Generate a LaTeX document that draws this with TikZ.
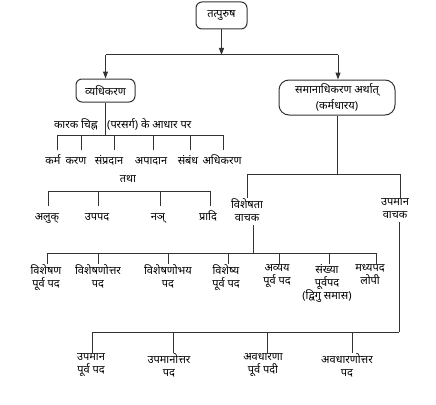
\documentclass[tikz,border=0pt]{standalone}
\usepackage{fontspec}
\newfontfamily\dev[Script=Devanagari]{Noto Sans}
\usetikzlibrary{arrows.meta}
\definecolor{linec}{HTML}{333333}
\begin{document}
\begin{tikzpicture}[x=1pt,y=-1pt,
  txt/.style={font=\dev\fontsize{11}{13}\selectfont, text=black},
  lbl/.style={txt, align=center, inner sep=0pt, anchor=north, execute at begin node={\rule{0pt}{14.5pt}}},
  box/.style={txt, font=\dev\fontsize{11}{16}\selectfont, draw=linec, line width=1pt, rounded corners=6pt, align=center, inner sep=0pt},
  ln/.style={draw=linec, line width=1pt},
  arr/.style={ln, -{Triangle[length=7pt,width=5pt]}}]
\useasboundingbox (0,0) rectangle (436,404);

% top level
\node[box, font=\dev\bfseries\fontsize{11}{13}\selectfont, minimum width=51pt, minimum height=27pt] (top) at (221.5,15.5) {तत्पुरुष};
\node[box, minimum width=59pt, minimum height=23pt] (vya) at (105.5,90.5) {व्यधिकरण};
\node[box, rounded corners=10pt, minimum width=116pt, minimum height=35pt] (sam) at (337,97.5) {समानाधिकरण अर्थात्\\(कर्मधारय)};

\coordinate (j0) at (221.5,55);
\coordinate (b1l) at (105.5,55);
\coordinate (b1r) at (338,55);
\draw[arr] (top.south) -- (j0);
\draw[ln] (b1l) -- (b1r);
\draw[arr] (b1l) -- (vya.north);
\draw[arr] (b1r) -- (b1r |- sam.north);

% vyadhikaran branch
\coordinate (b2l) at (57,135);
\coordinate (b2r) at (223,135);
\draw[ln] (vya.south) -- (vya.south |- b2l);
\node[txt, anchor=base east, inner sep=0pt] (kc) at (98,128) {कारक चिह्न};
\node[txt, anchor=base west, inner sep=0pt] (ps) at (107,128) {(परसर्ग) के आधार पर};
\draw[ln] (b2l) -- (b2r);
\node[lbl] (k1) at (53,150) {कर्म};
\node[lbl] (k2) at (76,150) {करण};
\node[lbl] (k3) at (109,150) {संप्रदान};
\node[lbl] (k4) at (151,150) {अपादान};
\node[lbl] (k5) at (188,150) {संबंध};
\node[lbl] (k6) at (222,150) {अधिकरण};
\draw[ln] ([xshift=4pt]k1.north |- b2l) -- ([xshift=4pt]k1.north);
\draw[ln] ([xshift=5pt]k2.north |- b2l) -- ([xshift=5pt]k2.north);
\draw[ln] ([xshift=5pt]k3.north |- b2l) -- ([xshift=5pt]k3.north);
\draw[ln] ([xshift=2pt]k4.north |- b2l) -- ([xshift=2pt]k4.north);
\draw[ln] ([xshift=2pt]k5.north |- b2l) -- ([xshift=2pt]k5.north);
\draw[ln] ([xshift=1pt]k6.north |- b2l) -- ([xshift=1pt]k6.north);

\node[txt, anchor=base, inner sep=0pt] (tatha) at (128,182) {तथा};

\coordinate (b3l) at (48,191);
\coordinate (b3r) at (210,191);
\draw[ln] (b3l) -- (b3r);
\node[lbl] (a1) at (47,206) {अलुक्};
\node[lbl] (a2) at (97,206) {उपपद};
\node[lbl] (a3) at (158,206) {नञ्};
\node[lbl] (a4) at (208,206) {प्रादि};
\draw[ln] ([xshift=1pt]a1.north |- b3l) -- ([xshift=1pt]a1.north);
\draw[ln] ([xshift=1pt]a2.north |- b3l) -- ([xshift=1pt]a2.north);
\draw[ln] ([xshift=2pt]a3.north |- b3l) -- ([xshift=2pt]a3.north);
\draw[ln] ([xshift=2pt]a4.north |- b3l) -- ([xshift=2pt]a4.north);

% samanadhikaran branch
\coordinate (b4l) at (247,174);
\coordinate (b4r) at (400,174);
\draw[ln] (sam.south) -- (sam.south |- b4l);
\draw[ln] (b4l) -- (b4r);
\node[lbl] (vis) at (247,198) {विशेषता\\वाचक};
\node[lbl] (upv) at (395,198) {उपमान\\वाचक};
\draw[ln] (vis.north |- b4l) -- (vis.north);
\draw[ln] ([xshift=5pt]upv.north |- b4l) -- ([xshift=5pt]upv.north);

\coordinate (b5l) at (47,253);
\coordinate (b5r) at (376,253);
\draw[ln] ([xshift=6pt,yshift=-4pt]vis.south) -- ([xshift=6pt]vis.south |- b5l);
\draw[ln] (b5l) -- (b5r);
\node[lbl] (v1) at (46,264) {विशेषण\\पूर्व पद};
\node[lbl] (v2) at (98,264) {विशेषणोत्तर\\पद};
\node[lbl] (v3) at (168,264) {विशेषणोभय\\पद};
\node[lbl] (v4) at (226,264) {विशेष्य\\पूर्व पद};
\node[lbl] (v5) at (277,264) {अव्यय\\पूर्व पद};
\node[lbl] (v6) at (327,264) {संख्या\\पूर्वपद\\(द्विगु समास)};
\node[lbl] (v7) at (370,264) {मध्यपद\\लोपी};
\draw[ln] ([xshift=1pt]v1.north |- b5l) -- ([xshift=1pt]v1.north);
\draw[ln] (v2.north |- b5l) -- (v2.north);
\draw[ln] (v3.north |- b5l) -- (v3.north);
\draw[ln] ([xshift=2pt]v4.north |- b5l) -- ([xshift=2pt]v4.north);
\draw[ln] ([xshift=2pt]v5.north |- b5l) -- ([xshift=2pt]v5.north);
\draw[ln] ([xshift=2pt]v6.north |- b5l) -- ([xshift=2pt]v6.north);
\draw[ln] ([xshift=6pt]v7.north |- b5l) -- ([xshift=6pt]v7.north);

\coordinate (b6l) at (92,332);
\coordinate (b6r) at (399,332);
\draw[ln] ([xshift=4pt,yshift=-4pt]upv.south) -- ([xshift=4pt]upv.south |- b6r);
\draw[ln] (b6l) -- (b6r);
\node[lbl] (u1) at (91,353) {उपमान\\पूर्व पद};
\node[lbl] (u2) at (169,353) {उपमानोत्तर\\पद};
\node[lbl] (u3) at (263,353) {अवधारणा\\पूर्व पदी};
\node[lbl] (u4) at (347,353) {अवधारणोत्तर\\पद};
\draw[ln] ([xshift=1pt]u1.north |- b6l) -- ([xshift=1pt]u1.north);
\draw[ln] ([xshift=4pt]u2.north |- b6l) -- ([xshift=4pt]u2.north);
\draw[ln] ([xshift=4pt]u3.north |- b6l) -- ([xshift=4pt]u3.north);
\draw[ln] ([xshift=5pt]u4.north |- b6l) -- ([xshift=5pt]u4.north);
\end{tikzpicture}
\end{document}
